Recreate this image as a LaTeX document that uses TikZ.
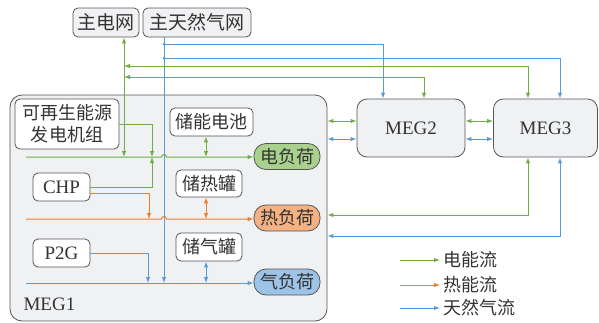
\documentclass[tikz,border=0pt]{standalone}
\usepackage{fontspec}
\setmainfont{Liberation Serif}
\newfontfamily\cjk{Noto Sans CJK SC}
\usetikzlibrary{arrows.meta}
\definecolor{cg}{HTML}{70AD47}
\definecolor{co}{HTML}{ED7D31}
\definecolor{cb}{HTML}{5B9BD5}
\definecolor{fg}{HTML}{A9D18E}
\definecolor{fo}{HTML}{F4B183}
\definecolor{fb}{HTML}{9DC3E6}
\definecolor{bgr}{HTML}{F0F1F3}
\definecolor{bd}{HTML}{555555}
\definecolor{tx}{HTML}{333333}
\begin{document}
\begin{tikzpicture}[x=1pt,y=-1pt,
  base/.style={draw=bd, line width=0.8pt, inner sep=0pt, text=tx},
  gbox/.style={base, fill=bgr, rounded corners=5pt},
  wbox/.style={base, fill=white, rounded corners=5pt},
  load/.style={base, rounded corners=12pt, minimum width=66pt, minimum height=26pt},
  zh/.style={font=\cjk\fontsize{18}{22}\selectfont},
  en/.style={font=\fontsize{19}{22}\selectfont},
  fl/.style={line width=1pt, -{Latex[length=6pt,width=4.5pt]}},
  bfl/.style={line width=1pt, {Latex[length=6pt,width=4.5pt]}-{Latex[length=6pt,width=4.5pt]}},
  dot/.style={circle, fill, inner sep=0pt, minimum size=3pt}]
\useasboundingbox (0,0) rectangle (599,322);

% big boxes
\node[gbox, rounded corners=12pt, minimum width=317pt, minimum height=226pt] (meg1) at (168.5,208) {};
\node[en, text=tx, anchor=west] (m1l) at (20,304) {MEG1};
\node[gbox, rounded corners=10pt, minimum width=108pt, minimum height=58pt, en] (meg2) at (411,128) {MEG2};
\node[gbox, rounded corners=10pt, minimum width=104pt, minimum height=58pt, en] (meg3) at (545.5,128) {MEG3};
\node[gbox, minimum width=66pt, minimum height=29pt, zh, font=\cjk\fontsize{19}{22}\selectfont] (grid) at (106,22.5) {主电网};
\node[gbox, minimum width=108pt, minimum height=29pt, zh, font=\cjk\fontsize{19}{22}\selectfont] (gas) at (197,22.5) {主天然气网};

% inner boxes
\node[wbox, minimum width=104pt, minimum height=50pt, zh, align=center] (ren) at (67,124) {可再生能源\\发电机组};
\node[wbox, minimum width=83pt, minimum height=28pt, zh] (bat) at (211.5,122) {储能电池};
\node[wbox, minimum width=57pt, minimum height=28pt, en] (chp) at (61.5,187) {CHP};
\node[wbox, minimum width=66pt, minimum height=27pt, zh] (hst) at (209,183.5) {储热罐};
\node[wbox, minimum width=57pt, minimum height=28pt, en] (p2g) at (61.5,253) {P2G};
\node[wbox, minimum width=66pt, minimum height=28pt, zh] (gst) at (209,247) {储气罐};
\node[load, fill=fg, zh] (el) at (287,156.5) {电负荷};
\node[load, fill=fo, zh] (hl) at (287,218) {热负荷};
\node[load, fill=fb, zh] (gl) at (287,282) {气负荷};

% coordinates
\coordinate (eL) at (26,157);
\coordinate (hL) at (26,219);
\coordinate (gL) at (26,283);
\coordinate (gv) at (124,157);
\coordinate (bv) at (164,283);

% main vertical lines
\draw[fl, cb] (gas.south -| bv) -- (bv);
\draw[bfl, cg] (grid.south -| gv) -- (gv);

% bus lines with hops
\draw[fl, cg] (eL) -- (161.5,157) arc[start angle=180, end angle=360, radius=2.5] -- (el.west |- eL);
\draw[fl, co] (hL) -- (161.5,219) arc[start angle=180, end angle=360, radius=2.5] -- (hl.west |- hL);
\draw[fl, cb] (gL) -- (gl.west |- gL);

% sources into buses
\draw[fl, cg] (ren.east |- 0,124) -- (152,124) -- (152,157);
\draw[fl, cg] (chp.east |- 0,187) -- (152,187) -- (152,157);
\draw[fl, co] (chp.east |- 0,193) -- (149,193) -- (149,219);
\draw[fl, cb] (p2g.east |- 0,253) -- (148,253) -- (148,283);

% storages
\draw[bfl, cg] (bat.south -| 206,0) -- (206,157);
\draw[bfl, co] (hst.south -| 206,0) -- (206,219);
\draw[bfl, cb] (gst.south -| 206,0) -- (206,283);

% links to MEG2 / MEG3 from main grids
\draw[fl, cb] (164,44) -- (383,44) -- (meg2.north -| 383,0);
\draw[fl, cb] (164,58) -- (560,58) -- (meg3.north -| 560,0);
\draw[bfl, cg] (124,66) -- (528,66) -- (meg3.north -| 528,0);
\draw[bfl, cg] (124,77) -- (424,77) -- (meg2.north -| 424,0);
\node[dot, cb] (d1) at (164,44) {};
\node[dot, cb] (d2) at (164,58) {};

% MEG interconnections
\draw[bfl, cg] (meg1.east |- 0,121) -- (meg2.west |- 0,121);
\draw[bfl, cb] (meg1.east |- 0,139) -- (meg2.west |- 0,139);
\draw[bfl, cg] (meg2.east |- 0,121) -- (meg3.west |- 0,121);
\draw[bfl, cb] (meg2.east |- 0,139) -- (meg3.west |- 0,139);
\draw[bfl, cg] (meg3.south -| 528,0) -- (528,215) -- (meg1.east |- 0,215);
\draw[bfl, cb] (meg3.south -| 560,0) -- (560,236) -- (meg1.east |- 0,236);

% legend
\coordinate (l1) at (400,260);
\coordinate (l2) at (400,285);
\coordinate (l3) at (400,308);
\node[zh, text=tx, anchor=west] (t1) at (440,260) {电能流};
\node[zh, text=tx, anchor=west] (t2) at (440,285) {热能流};
\node[zh, text=tx, anchor=west] (t3) at (440,308) {天然气流};
\draw[fl, cg] (l1) -- (t1.west);
\draw[fl, co] (l2) -- (t2.west);
\draw[fl, cb] (l3) -- (t3.west);
\end{tikzpicture}
\end{document}
